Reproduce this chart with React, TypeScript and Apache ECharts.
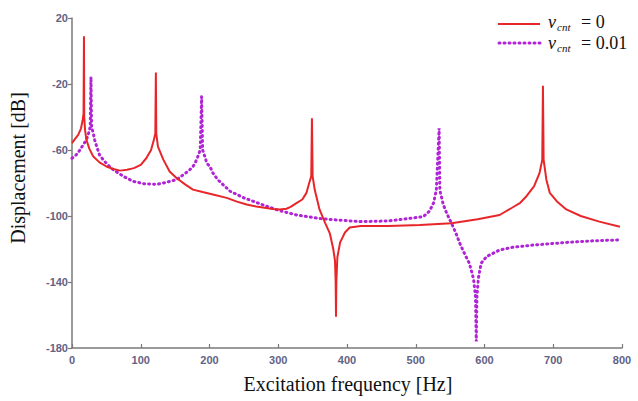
import React, { useEffect, useRef } from "react";
import * as echarts from "echarts";

const xTicks = [0, 100, 200, 300, 400, 500, 600, 700, 800];
const yTicks = [-180, -140, -100, -60, -20, 20];

// v_cnt = 0  (frequency Hz, displacement dB)
const redFreq = [0, 5, 9, 13, 15.5, 16.8, 17.4, 17.8, 19, 21, 25, 31, 40, 50, 60, 70, 80, 90, 100, 108, 115, 119, 121.2, 122, 122.6, 125, 133, 142, 152, 165, 176, 190, 205, 225, 240, 254, 268, 280, 292, 302, 312, 318, 327, 335, 341, 345, 348, 349, 350, 353, 360, 368, 375, 380, 382.5, 383.5, 384, 384.5, 386, 390, 397, 404, 420, 460, 506, 552, 590, 622, 640, 652, 661, 672, 680, 684, 685, 686, 690, 695, 705, 719, 740, 767, 797];
const redDb = [-55.8, -53, -50.8, -47, -42, -38, 9, -40, -48, -53.8, -59, -64, -67.5, -70, -71.5, -72.5, -72, -71, -69, -65, -60, -54, -50, -13, -50, -58, -66, -73, -77, -81, -84, -85.5, -87, -89, -91.3, -93, -94.3, -95, -95.7, -96, -95.6, -94.5, -92, -90, -86, -80, -76, -40.7, -76, -84, -96, -104, -110.5, -120, -127, -140, -161, -140, -125, -116, -110, -107, -106, -106, -105.5, -104.4, -102, -99.4, -95, -92, -88, -82, -74, -66, -21, -66, -78, -86, -91, -96, -100, -103.4, -106.5];

// v_cnt = 0.01
const purpleFreq = [0, 6, 11.6, 16, 21, 24, 26.5, 27.6, 28.5, 31, 33, 36, 40, 45.5, 52, 60, 75, 89, 105, 123, 133, 152, 162, 170, 176, 179, 183, 186.5, 188.5, 190, 194, 196, 200.6, 205, 212, 230, 250, 278, 300, 327, 360, 385, 420, 460, 490, 511, 520, 526, 530, 534, 535, 536, 540, 545, 552, 558, 564, 570, 578, 584, 587, 588, 589, 591, 595, 603, 622, 640, 671, 720, 760, 797];
const purpleDb = [-65, -63, -60, -57, -53.8, -50, -46, -15.8, -46, -50, -54, -58, -63, -66, -69, -72, -76, -79, -80.5, -80.8, -80, -78, -75, -72.5, -70, -68, -64, -60, -27.6, -60, -65, -68, -70, -74, -78, -85, -89, -93.3, -96.5, -99.4, -101.5, -102.4, -103.4, -103, -101.5, -100.4, -97, -92, -84, -46.8, -84, -86, -93, -98.3, -104.4, -110, -116.5, -122, -128.7, -138, -149, -176, -149, -138, -128.7, -124.6, -120.6, -119, -117.6, -116, -115, -114.5];

const seriesNames = ["v_cnt = 0", "v_cnt = 0.01"];

const RED = "#e8262a";
const PURPLE = "#b024d6";
const LABEL = "#626285";
const AXIS = "#7a7a7a";

function pairs(xs: number[], ys: number[]) {
  return xs.map((x, i) => [x, ys[i]]);
}

export default function App() {
  const ref = useRef<HTMLDivElement>(null);
  useEffect(() => {
    if (!ref.current) return;
    const chart = echarts.init(ref.current, null, { renderer: "svg" });
    const serif = "'Liberation Serif', 'Times New Roman', serif";
    const legendText = (x: number, y: number, val: string) => [
      { type: "text", x: x, y: y, style: { text: "v", font: `italic 18px ${serif}`, lineHeight: 15, fill: "#111", verticalAlign: "middle" } },
      { type: "text", x: x + 9, y: y + 5, style: { text: "cnt", font: `italic 11px ${serif}`, lineHeight: 9, fill: "#111", verticalAlign: "middle" } },
      { type: "text", x: x + 33, y: y, style: { text: "= " + val, font: `18px ${serif}`, lineHeight: 15, fill: "#111", verticalAlign: "middle" } },
    ];
    chart.setOption({
      animation: false,
      backgroundColor: "#ffffff",
      grid: { left: 72, right: 16, top: 18, bottom: 53, containLabel: false },
      xAxis: {
        type: "value",
        min: 0,
        max: 800,
        interval: 100,
        axisLine: { show: true, onZero: false, lineStyle: { color: AXIS, width: 1.5 } },
        axisTick: { show: true, inside: true, length: 4, lineStyle: { color: AXIS, width: 1.2 }, customValues: xTicks },
        axisLabel: { color: LABEL, fontWeight: "bold", fontFamily: "Liberation Sans, Arial, sans-serif", fontSize: 11, margin: 6, customValues: xTicks },
        splitLine: { show: false },
      },
      yAxis: {
        type: "value",
        min: -180,
        max: 20,
        axisLine: { show: true, onZero: false, lineStyle: { color: AXIS, width: 1.5 } },
        axisTick: { show: true, inside: false, length: 4, lineStyle: { color: AXIS, width: 1.2 }, customValues: yTicks },
        axisLabel: { color: LABEL, fontWeight: "bold", fontFamily: "Liberation Sans, Arial, sans-serif", fontSize: 11, margin: 4, customValues: yTicks },
        splitLine: { show: false },
      },
      graphic: [
        { type: "text", x: 348, y: 384, style: { text: "Excitation frequency [Hz]", font: `20px ${serif}`, fill: "#111", align: "center", verticalAlign: "middle" } },
        { type: "text", x: 18, y: 168, rotation: Math.PI / 2, style: { text: "Displacement [dB]", font: `20px ${serif}`, fill: "#111", verticalAlign: "middle", align: "center" } },
        { type: "line", shape: { x1: 498, y1: 24, x2: 540, y2: 24 }, style: { stroke: RED, lineWidth: 2 } },
        { type: "line", shape: { x1: 499, y1: 43, x2: 540, y2: 43 }, style: { stroke: PURPLE, lineWidth: 3, lineDash: [1, 4], lineCap: "round" } },
        ...legendText(548, 22, "0"),
        ...legendText(548, 43, "0.01"),
      ],
      series: [
        {
          name: seriesNames[0],
          type: "line",
          showSymbol: false,
          data: pairs(redFreq, redDb),
          lineStyle: { color: RED, width: 2 },
          z: 3,
        },
        {
          name: seriesNames[1],
          type: "line",
          showSymbol: false,
          data: pairs(purpleFreq, purpleDb),
          lineStyle: { color: PURPLE, width: 3, type: [1, 4], cap: "round" },
          z: 2,
        },
      ],
    });
    return () => chart.dispose();
  }, []);
  return <div ref={ref} style={{ position: "fixed", left: 0, top: 0, width: 638, height: 401 }} />;
}
